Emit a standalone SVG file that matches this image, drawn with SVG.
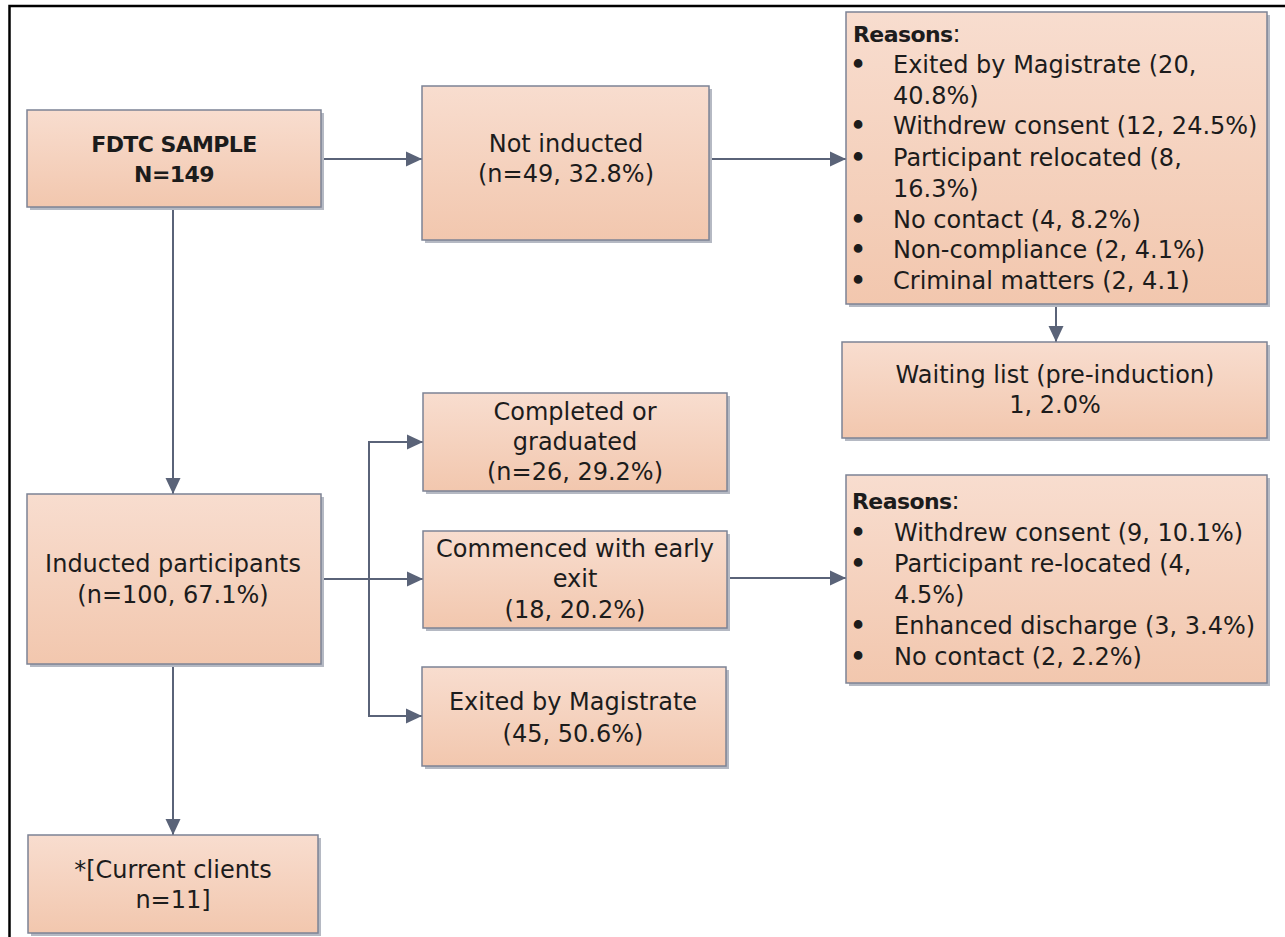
<svg xmlns="http://www.w3.org/2000/svg" width="1285" height="937" viewBox="0 0 1285 937">
<defs>
<linearGradient id="fill" x1="0" y1="0" x2="0" y2="1">
<stop offset="0" stop-color="#f8ddcf"/>
<stop offset="1" stop-color="#f2c7ae"/>
</linearGradient>
<marker id="arr" markerUnits="userSpaceOnUse" markerWidth="16" markerHeight="16" viewBox="0 0 16 16" refX="16" refY="8" orient="auto">
<path d="M0,0.5 L16,8 L0,15.5 Z" fill="#5a6378"/>
</marker>
</defs>
<style>
.sh{fill:#b5b9c3}
.bx{fill:url(#fill);stroke:#7c8395;stroke-width:1.5}
.t{font-family:"DejaVu Sans",sans-serif;font-size:24px;fill:#1c1c1c}
.c{text-anchor:middle}
.b{font-weight:bold;font-size:22px;letter-spacing:-0.6px}
.bu{text-anchor:middle;stroke:#1c1c1c;stroke-width:1.6}
.ln{fill:none;stroke:#5a6378;stroke-width:2}
.fr{fill:none;stroke:#000;stroke-width:2.5}
</style>
<rect width="1285" height="937" fill="#fff"/>
<path class="fr" d="M9.5,937 V6 H1285"/>

<g id="connectors">
<path class="ln" d="M321,159 H422" marker-end="url(#arr)"/>
<path class="ln" d="M709,159 H846" marker-end="url(#arr)"/>
<path class="ln" d="M1056,304 V342" marker-end="url(#arr)"/>
<path class="ln" d="M173,207 V494" marker-end="url(#arr)"/>
<path class="ln" d="M321,579 H369 V442 H423" marker-end="url(#arr)"/>
<path class="ln" d="M321,579 H423" marker-end="url(#arr)"/>
<path class="ln" d="M369,579 V716 H422" marker-end="url(#arr)"/>
<path class="ln" d="M727,578 H846" marker-end="url(#arr)"/>
<path class="ln" d="M173,664 V835" marker-end="url(#arr)"/>
</g>

<g id="fdtc">
<rect class="sh" x="30" y="113" width="294" height="97"/>
<rect class="bx" x="27" y="110" width="294" height="97"/>
<text class="t c b" x="174" y="152">FDTC SAMPLE</text>
<text class="t c b" x="174" y="182">N=149</text>
</g>

<g id="not-inducted">
<rect class="sh" x="425" y="89" width="287" height="154"/>
<rect class="bx" x="422" y="86" width="287" height="154"/>
<text class="t c" x="566" y="152">Not inducted</text>
<text class="t c" x="566" y="182">(n=49, 32.8%)</text>
</g>

<g id="reasons-1">
<rect class="sh" x="849" y="15" width="421" height="292"/>
<rect class="bx" x="846" y="12" width="421" height="292"/>
<text class="t" x="853" y="42"><tspan style="font-weight:bold;font-size:22px;letter-spacing:-0.6px">Reasons</tspan>:</text>
<text class="t bu" x="858" y="73">•</text>
<text class="t" x="893" y="73">Exited by Magistrate (20,</text>
<text class="t" x="893" y="104">40.8%)</text>
<text class="t bu" x="858" y="134">•</text>
<text class="t" x="893" y="134">Withdrew consent (12, 24.5%)</text>
<text class="t bu" x="858" y="166">•</text>
<text class="t" x="893" y="166">Participant relocated (8,</text>
<text class="t" x="893" y="197">16.3%)</text>
<text class="t bu" x="858" y="228">•</text>
<text class="t" x="893" y="228">No contact (4, 8.2%)</text>
<text class="t bu" x="858" y="258">•</text>
<text class="t" x="893" y="258">Non-compliance (2, 4.1%)</text>
<text class="t bu" x="858" y="289">•</text>
<text class="t" x="893" y="289">Criminal matters (2, 4.1)</text>
</g>

<g id="waiting-list">
<rect class="sh" x="845" y="345" width="425" height="96"/>
<rect class="bx" x="842" y="342" width="425" height="96"/>
<text class="t c" x="1055" y="383">Waiting list (pre-induction)</text>
<text class="t c" x="1055" y="413">1, 2.0%</text>
</g>

<g id="inducted">
<rect class="sh" x="30" y="497" width="294" height="170"/>
<rect class="bx" x="27" y="494" width="294" height="170"/>
<text class="t c" x="173" y="572">Inducted participants</text>
<text class="t c" x="173" y="603">(n=100, 67.1%)</text>
</g>

<g id="completed">
<rect class="sh" x="426" y="396" width="304" height="98"/>
<rect class="bx" x="423" y="393" width="304" height="98"/>
<text class="t c" x="575" y="420">Completed or</text>
<text class="t c" x="575" y="450">graduated</text>
<text class="t c" x="575" y="480">(n=26, 29.2%)</text>
</g>

<g id="commenced">
<rect class="sh" x="426" y="534" width="304" height="97"/>
<rect class="bx" x="423" y="531" width="304" height="97"/>
<text class="t c" x="575" y="557">Commenced with early</text>
<text class="t c" x="575" y="587">exit</text>
<text class="t c" x="575" y="618">(18, 20.2%)</text>
</g>

<g id="exited">
<rect class="sh" x="425" y="670" width="304" height="99"/>
<rect class="bx" x="422" y="667" width="304" height="99"/>
<text class="t c" x="573" y="710">Exited by Magistrate</text>
<text class="t c" x="573" y="742">(45, 50.6%)</text>
</g>

<g id="reasons-2">
<rect class="sh" x="849" y="478" width="421" height="208"/>
<rect class="bx" x="846" y="475" width="421" height="208"/>
<text class="t" x="852" y="509"><tspan style="font-weight:bold;font-size:22px;letter-spacing:-0.6px">Reasons</tspan>:</text>
<text class="t bu" x="858" y="541">•</text>
<text class="t" x="894" y="541">Withdrew consent (9, 10.1%)</text>
<text class="t bu" x="858" y="572">•</text>
<text class="t" x="894" y="572">Participant re-located (4,</text>
<text class="t" x="894" y="603">4.5%)</text>
<text class="t bu" x="858" y="634">•</text>
<text class="t" x="894" y="634">Enhanced discharge (3, 3.4%)</text>
<text class="t bu" x="858" y="665">•</text>
<text class="t" x="894" y="665">No contact (2, 2.2%)</text>
</g>

<g id="current-clients">
<rect class="sh" x="31" y="838" width="290" height="98"/>
<rect class="bx" x="28" y="835" width="290" height="98"/>
<text class="t c" x="173" y="878">*[Current clients</text>
<text class="t c" x="173" y="908">n=11]</text>
</g>
</svg>
